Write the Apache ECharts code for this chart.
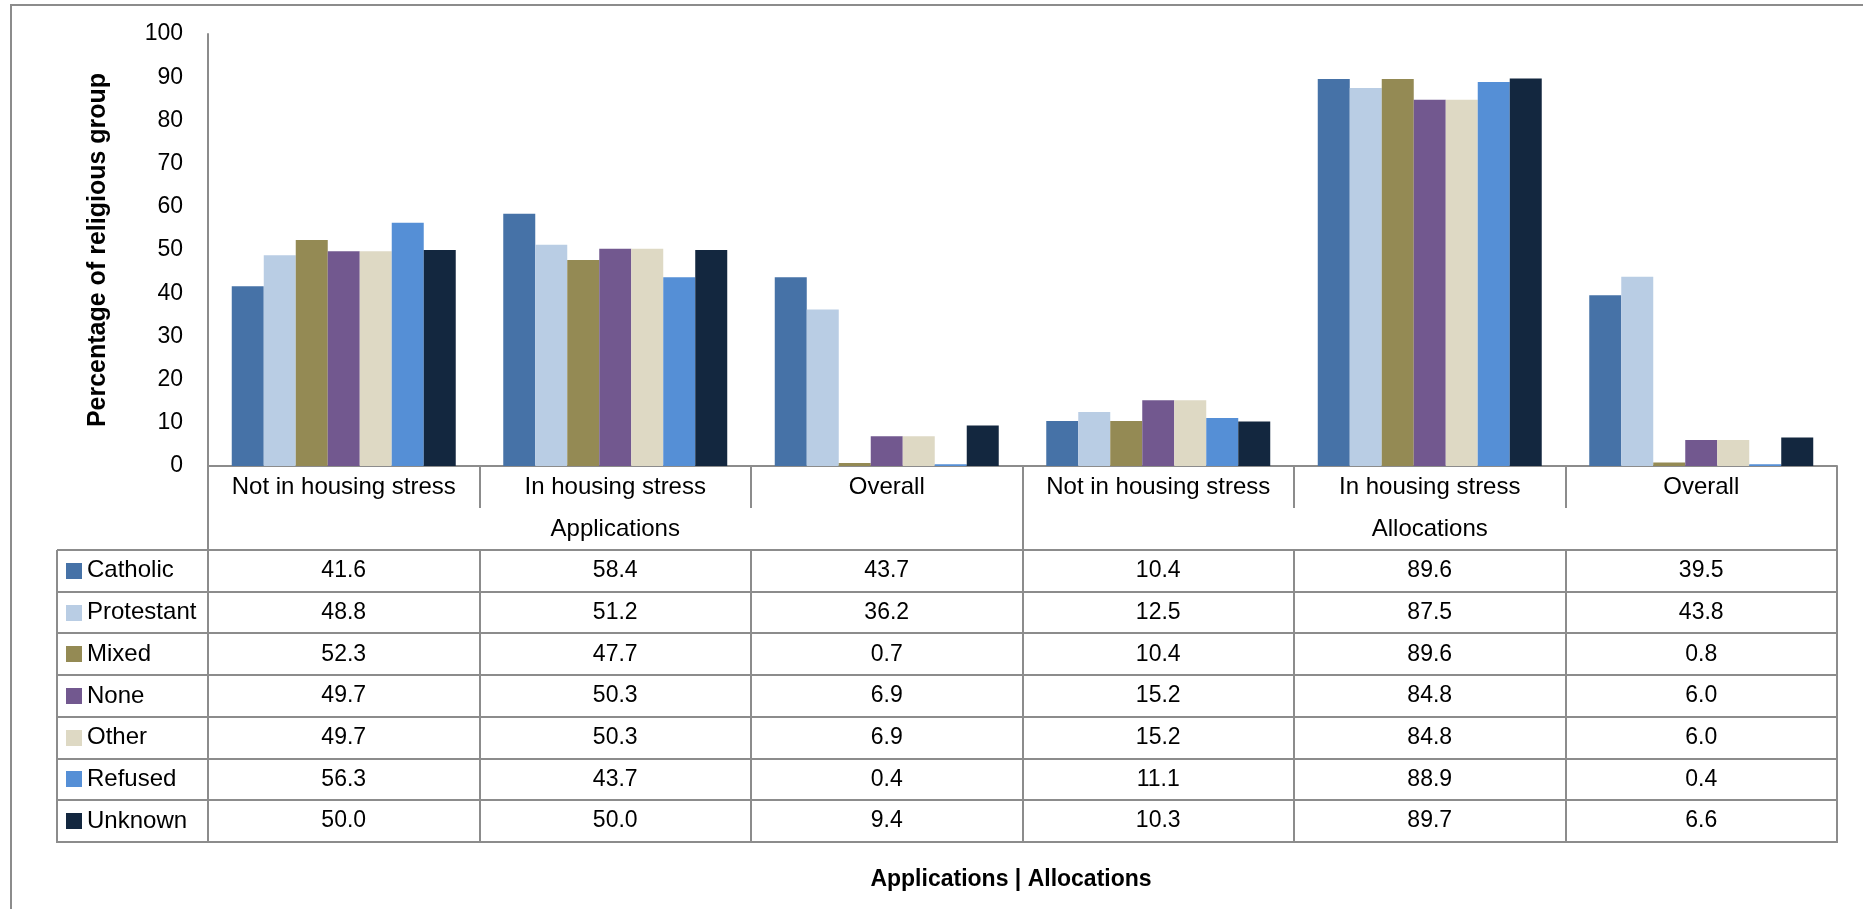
<!DOCTYPE html>
<html><head><meta charset="utf-8">
<script src="https://cdn.jsdelivr.net/npm/echarts@6/dist/echarts.min.js"></script>
<style>html,body{margin:0;padding:0;background:#fff}#c{width:1863px;height:909px}</style>
</head><body><div id="c"></div>
<script>
const categories = ['Not in housing stress','In housing stress','Overall','Not in housing stress','In housing stress','Overall'];
const groups = ['Applications','Allocations'];
const seriesNames = ['Catholic','Protestant','Mixed','None','Other','Refused','Unknown'];
const catholic   = [41.6, 58.4, 43.7, 10.4, 89.6, 39.5];
const protestant = [48.8, 51.2, 36.2, 12.5, 87.5, 43.8];
const mixed      = [52.3, 47.7, 0.7, 10.4, 89.6, 0.8];
const none       = [49.7, 50.3, 6.9, 15.2, 84.8, 6.0];
const other      = [49.7, 50.3, 6.9, 15.2, 84.8, 6.0];
const refused    = [56.3, 43.7, 0.4, 11.1, 88.9, 0.4];
const unknown    = [50.0, 50.0, 9.4, 10.3, 89.7, 6.6];
const seriesValues = [catholic, protestant, mixed, none, other, refused, unknown];
const colors = ['#4672a7','#b9cde4','#948a54','#72588f','#ded9c4','#558fd6','#13273f'];
const yTitle = 'Percentage of religious group';
const xTitle = 'Applications | Allocations';

const LINE = '#8c8c8c';
const FONT = '"Liberation Sans", Arial, sans-serif';

const chart = echarts.init(document.getElementById('c'), null, {renderer: 'canvas'});

const series = seriesNames.map((n, i) => ({
  name: n, type: 'bar', data: seriesValues[i],
  itemStyle: {color: colors[i]},
  barGap: '0%', barCategoryGap: '17.5%',
  xAxisIndex: 0, yAxisIndex: 0
}));

chart.setOption({
  animation: false,
  backgroundColor: '#fff',
  grid: {left: 208, top: 34, width: 1629, height: 432, containLabel: false},
  xAxis: [{
    type: 'category', data: categories, position: 'bottom',
    axisLine: {show: true, lineStyle: {color: LINE, width: 2}},
    axisTick: {show: true, interval: 0, length: 42, lineStyle: {color: LINE, width: 2}},
    axisLabel: {interval: 0, color: '#000', fontSize: 24, fontFamily: FONT, margin: 9}
  }, {
    type: 'category', data: groups, position: 'bottom', offset: 42, gridIndex: 0,
    axisLine: {show: false},
    axisTick: {show: true, interval: 0, length: 42, lineStyle: {color: LINE, width: 2}},
    axisLabel: {interval: 0, color: '#000', fontSize: 24, fontFamily: FONT, margin: 9}
  }],
  yAxis: {
    type: 'value', min: 0, max: 100, interval: 10,
    axisLine: {show: true, lineStyle: {color: LINE, width: 2}},
    axisTick: {show: false}, splitLine: {show: false},
    axisLabel: {color: '#000', fontSize: 23, fontFamily: FONT, margin: 25},
    name: yTitle, nameLocation: 'middle', nameGap: 97,
    nameTextStyle: {fontWeight: 'bold', fontSize: 25, color: '#000', fontFamily: FONT}
  },
  series: series
});

// Table drawn from the category axis scale
const TABLE_TOP = 550, ROW_H = 41.7, LEG_LEFT = 57, LEG_SQ_X = 66, LEG_TXT_X = 87;
const centers = categories.map((c, i) => chart.convertToPixel({xAxisIndex: 0}, i));
const band = centers[1] - centers[0];
const bounds = centers.map(c => c - band / 2);
bounds.push(centers[centers.length - 1] + band / 2);
const tableBottom = TABLE_TOP + ROW_H * seriesNames.length;

const g = [];
g.push({type: 'rect', shape: {x: 11, y: 5, width: 1950, height: 1000},
  style: {fill: 'none', stroke: LINE, lineWidth: 2}, silent: true});
for (let k = 0; k <= seriesNames.length; k++) {
  const y = Math.round(TABLE_TOP + k * ROW_H);
  g.push({type: 'line', shape: {x1: LEG_LEFT, y1: y, x2: bounds[bounds.length - 1] + 1, y2: y},
    style: {stroke: LINE, lineWidth: 2}, silent: true});
}
[LEG_LEFT].concat(bounds).forEach(x => {
  g.push({type: 'line', shape: {x1: Math.round(x), y1: TABLE_TOP, x2: Math.round(x), y2: Math.round(tableBottom) + 1},
    style: {stroke: LINE, lineWidth: 2}, silent: true});
});
seriesNames.forEach((n, i) => {
  const cy = TABLE_TOP + (i + 0.5) * ROW_H;
  g.push({type: 'rect', shape: {x: LEG_SQ_X, y: Math.round(cy - 8), width: 16, height: 16},
    style: {fill: colors[i]}, silent: true});
  g.push({type: 'text', x: LEG_TXT_X, y: cy,
    style: {text: n, fill: '#000', font: '24px ' + FONT, textAlign: 'left', textVerticalAlign: 'middle'}, silent: true});
  seriesValues[i].forEach((v, j) => {
    g.push({type: 'text', x: centers[j], y: cy,
      style: {text: v.toFixed(1), fill: '#000', font: '23px ' + FONT, textAlign: 'center', textVerticalAlign: 'middle'}, silent: true});
  });
});
g.push({type: 'text', x: 1011, y: 880,
  style: {text: xTitle, fill: '#000', font: 'bold 23px ' + FONT, textAlign: 'center', textVerticalAlign: 'middle'}, silent: true});

chart.setOption({graphic: g});
</script>
</body></html>
